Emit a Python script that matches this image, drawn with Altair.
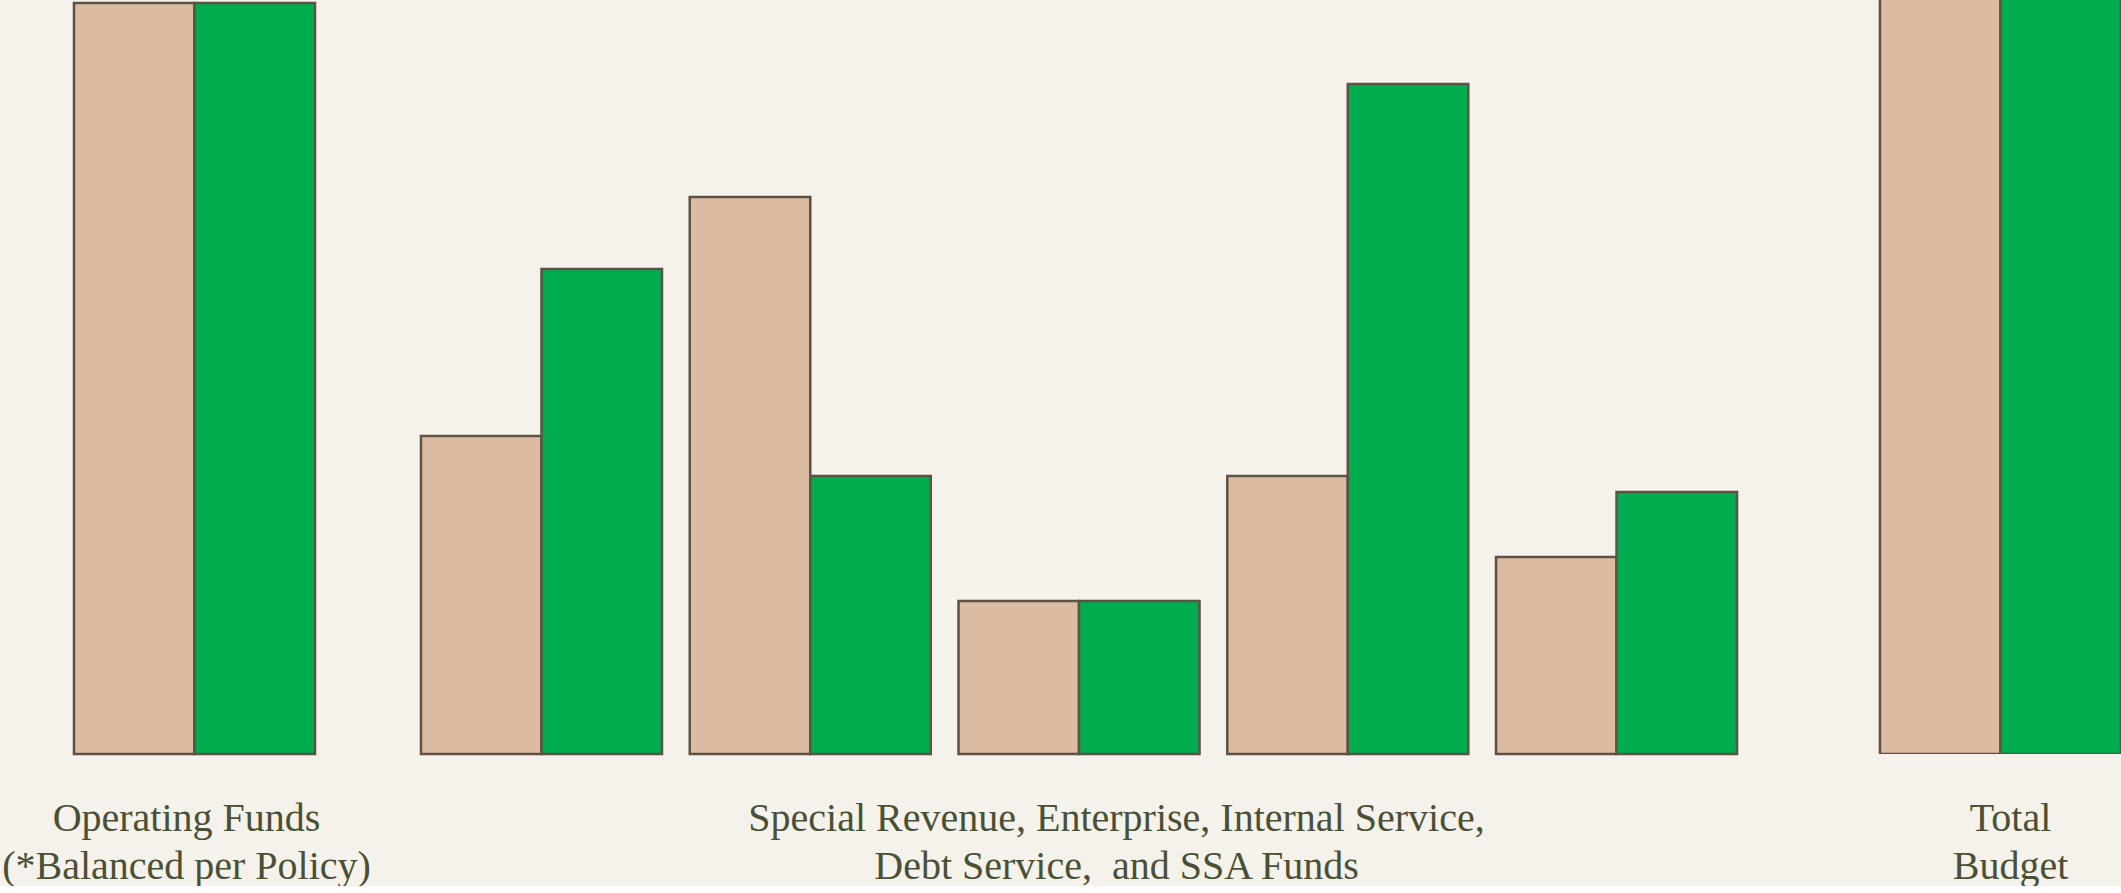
import altair as alt
import pandas as pd

# ---- data (arbitrary units) ----
series = ["Revenues", "Expenditures"]

op_groups = ["Operating Funds"]
op_rev = [751]
op_exp = [751]

mid_groups = ["Special Revenue", "Enterprise", "Internal Service", "Debt Service", "SSA"]
mid_rev = [318, 557, 153, 278, 197]
mid_exp = [485, 278, 153, 670, 262]

total_groups = ["Total Budget"]
total_rev = [sum(op_rev) + sum(mid_rev)]
total_exp = [sum(op_exp) + sum(mid_exp)]

YMAX = 754

# ---- style ----
BG = "#f5f1eb"
TAN = "#dbbba2"
GREEN = "#00ad4e"
STROKE = "#5e5246"
TEXT = "#4a5036"
FONT = "Liberation Serif"


def frame(groups, rev, exp):
    rows = []
    for g, r, e in zip(groups, rev, exp):
        rows.append({"group": g, "series": series[0], "value": r})
        rows.append({"group": g, "series": series[1], "value": e})
    return pd.DataFrame(rows)


def panel(df, order, width, pad_inner, pad_outer, align, title, title_x, clip=False):
    return (
        alt.Chart(df)
        .mark_bar(stroke=STROKE, strokeWidth=2.5, clip=clip)
        .encode(
            x=alt.X(
                "group:N",
                sort=order,
                scale=alt.Scale(paddingInner=pad_inner, paddingOuter=pad_outer, align=align),
                axis=alt.Axis(
                    title=title,
                    labels=False,
                    ticks=False,
                    domain=False,
                    grid=False,
                    titleX=title_x,
                    titleY=76,
                    titleBaseline="alphabetic",
                    titleAlign="center",
                    titleLineHeight=48,
                    titleFont=FONT,
                    titleFontSize=40,
                    titleFontWeight="normal",
                    titleColor=TEXT,
                ),
            ),
            xOffset=alt.XOffset(
                "series:N", sort=series, scale=alt.Scale(paddingInner=0, paddingOuter=0)
            ),
            y=alt.Y("value:Q", scale=alt.Scale(domain=[0, YMAX]), axis=None),
            color=alt.Color(
                "series:N",
                sort=series,
                scale=alt.Scale(domain=series, range=[TAN, GREEN]),
                legend=None,
            ),
        )
        .properties(width=width, height=754)
    )


p1 = panel(frame(op_groups, op_rev, op_exp), op_groups, 389, 0, 0.307, 0.5,
           ["Operating Funds", "(*Balanced per Policy)"], 186)
p2 = panel(frame(mid_groups, mid_rev, mid_exp), mid_groups, 1380, 0.1033, 0.119, 0.5,
           ["Special Revenue, Enterprise, Internal Service,", "Debt Service,\u00a0 and SSA Funds"], 727)
p3 = panel(frame(total_groups, total_rev, total_exp), total_groups, 352, 0, 0.2303, 1,
           ["Total", "Budget"], 241, clip=True)

chart = (
    alt.hconcat(p1, p2, p3, spacing=0, bounds="flush")
    .properties(padding=0, background=BG)
    .configure_view(strokeWidth=0)
)

chart.save("out.html", embed_options={"renderer": "svg", "actions": False})
